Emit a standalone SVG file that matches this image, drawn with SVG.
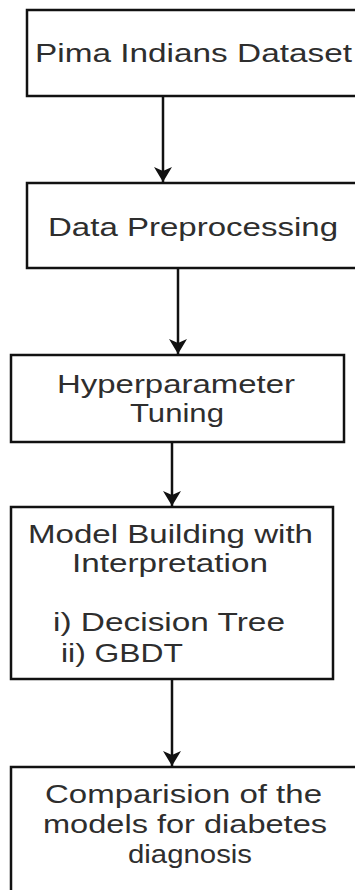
<svg xmlns="http://www.w3.org/2000/svg" width="355" height="890" viewBox="0 0 355 890">
<style>
.box{fill:#fff;stroke:#111;stroke-width:2.5}
.t{font-family:"Liberation Sans",Arial,sans-serif;font-size:26px;fill:#2e2e2e}
.c{stroke:#111;stroke-width:2.5;fill:none}
</style>
<defs>
<marker id="ah" viewBox="0 0 15 18" refX="15" refY="9" markerWidth="15" markerHeight="18" markerUnits="userSpaceOnUse" orient="auto">
<path d="M0,0 L15,9 L0,18 L4,9 z" fill="#111"/>
</marker>
</defs>
<rect width="355" height="890" fill="#fff"/>
<g id="connectors">
<line class="c" x1="163" y1="96" x2="163" y2="182" marker-end="url(#ah)"/>
<line class="c" x1="178" y1="268" x2="178" y2="354" marker-end="url(#ah)"/>
<line class="c" x1="172" y1="442" x2="172" y2="506" marker-end="url(#ah)"/>
<line class="c" x1="172" y1="679" x2="172" y2="766" marker-end="url(#ah)"/>
</g>
<g id="n1">
<rect class="box" x="27" y="10" width="360" height="86"/>
<text class="t" x="35" y="62" textLength="317" lengthAdjust="spacingAndGlyphs">Pima Indians Dataset</text>
</g>
<g id="n2">
<rect class="box" x="27" y="183" width="360" height="85"/>
<text class="t" x="48" y="236" textLength="290" lengthAdjust="spacingAndGlyphs">Data Preprocessing</text>
</g>
<g id="n3">
<rect class="box" x="11" y="355" width="333" height="87"/>
<text class="t" x="57" y="393" textLength="238" lengthAdjust="spacingAndGlyphs">Hyperparameter</text>
<text class="t" x="130" y="422" textLength="94" lengthAdjust="spacingAndGlyphs">Tuning</text>
</g>
<g id="n4">
<rect class="box" x="11" y="507" width="322" height="172"/>
<text class="t" x="28" y="543" textLength="285" lengthAdjust="spacingAndGlyphs">Model Building with</text>
<text class="t" x="72" y="572" textLength="196" lengthAdjust="spacingAndGlyphs">Interpretation</text>
<text class="t" x="53" y="631" textLength="232" lengthAdjust="spacingAndGlyphs">i) Decision Tree</text>
<text class="t" x="61" y="662" textLength="122" lengthAdjust="spacingAndGlyphs">ii) GBDT</text>
</g>
<g id="n5">
<rect class="box" x="11" y="767" width="360" height="140"/>
<text class="t" x="45" y="803" textLength="277" lengthAdjust="spacingAndGlyphs">Comparision of the</text>
<text class="t" x="43" y="833" textLength="284" lengthAdjust="spacingAndGlyphs">models for diabetes</text>
<text class="t" x="128" y="863" textLength="124" lengthAdjust="spacingAndGlyphs">diagnosis</text>
</g>
</svg>
